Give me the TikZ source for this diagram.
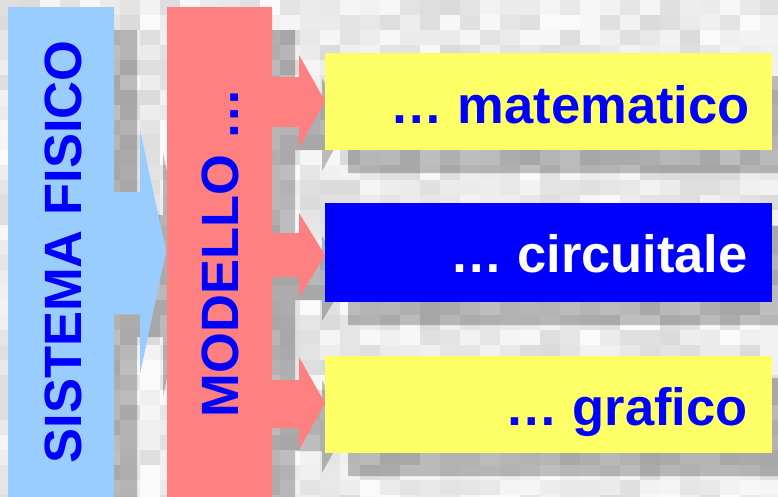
\documentclass[tikz,border=0pt]{standalone}
\usepackage{fontspec}
\setmainfont{Liberation Sans}
\definecolor{lblue}{HTML}{99CCFF}
\definecolor{salmon}{HTML}{FF8080}
\definecolor{yel}{HTML}{FFFF66}
\definecolor{pblue}{HTML}{0000FF}
\begin{document}
\begin{tikzpicture}[x=1pt,y=-1pt,
  lab/.style={font=\fontsize{52.5}{52.5}\selectfont\bfseries, inner sep=0pt},
  box/.style={minimum width=447pt, minimum height=97pt, inner sep=0pt, draw=none}]
\useasboundingbox (0,0) rectangle (778,496);
\clip (0,0) rectangle (778,496);
% textured background
\pgfmathsetseed{11}
\foreach \i in {0,...,38}{
  \foreach \j in {0,...,33}{
    \pgfmathsetmacro\g{int(86+random(0,12))}
    \fill[white!\g!black] (\i*20-0.3,\j*15-0.3) rectangle ++(20.6,15.6);
  }
}
% shadows
\fill[black, opacity=0.24, shift={(23,23)}]
  (8,7) -- (114,7) -- (114,192) -- (140,192) -- (140,130) -- (166,251) -- (140,374) -- (140,314) -- (114,314) -- (114,520) -- (8,520) -- cycle
  (167,7) -- (272,7) -- (272,77) -- (299,77) -- (299,55) -- (325,101) -- (299,148) -- (299,127) -- (272,127)
   -- (272,233) -- (299,233) -- (299,213) -- (325,255) -- (299,298) -- (299,277) -- (272,277)
   -- (272,380) -- (299,380) -- (299,357) -- (325,403) -- (299,450) -- (299,428) -- (272,428) -- (272,520) -- (167,520) -- cycle
  (325,53) rectangle (772,150)
  (325,203) rectangle (772,302)
  (325,355) rectangle (772,453);
% blue bar with arrow
\fill[lblue] (8,7) -- (114,7) -- (114,192) -- (140,192) -- (140,130) -- (166,251) -- (140,374) -- (140,314) -- (114,314) -- (114,520) -- (8,520) -- cycle;
% pink bar with three arrows
\fill[salmon] (167,7) -- (272,7) -- (272,77) -- (299,77) -- (299,55) -- (325,101) -- (299,148) -- (299,127) -- (272,127)
   -- (272,233) -- (299,233) -- (299,213) -- (325,255) -- (299,298) -- (299,277) -- (272,277)
   -- (272,380) -- (299,380) -- (299,357) -- (325,403) -- (299,450) -- (299,428) -- (272,428) -- (272,520) -- (167,520) -- cycle;
% boxes
\node[box, fill=yel] (bm) at (548.5,101.5) {};
\node[box, fill=pblue, minimum height=99pt] (bc) at (548.5,252.5) {};
\node[box, fill=yel] (bg) at (548.5,404) {};
% labels
\node[lab, text=pblue, rotate=90, anchor=base] (sf) at (81,252) {SISTEMA FISICO};
\node[lab, text=pblue, rotate=90, anchor=base] (mo) at (238,252.5) {MODELLO …};
\node[lab, text=pblue, anchor=base east] (tm) at (750,123) {… matematico};
\node[lab, text=white, anchor=base east] (tc) at (748,272) {… circuitale};
\node[lab, text=pblue, anchor=base east] (tg) at (748,425) {… grafico};
\end{tikzpicture}
\end{document}
